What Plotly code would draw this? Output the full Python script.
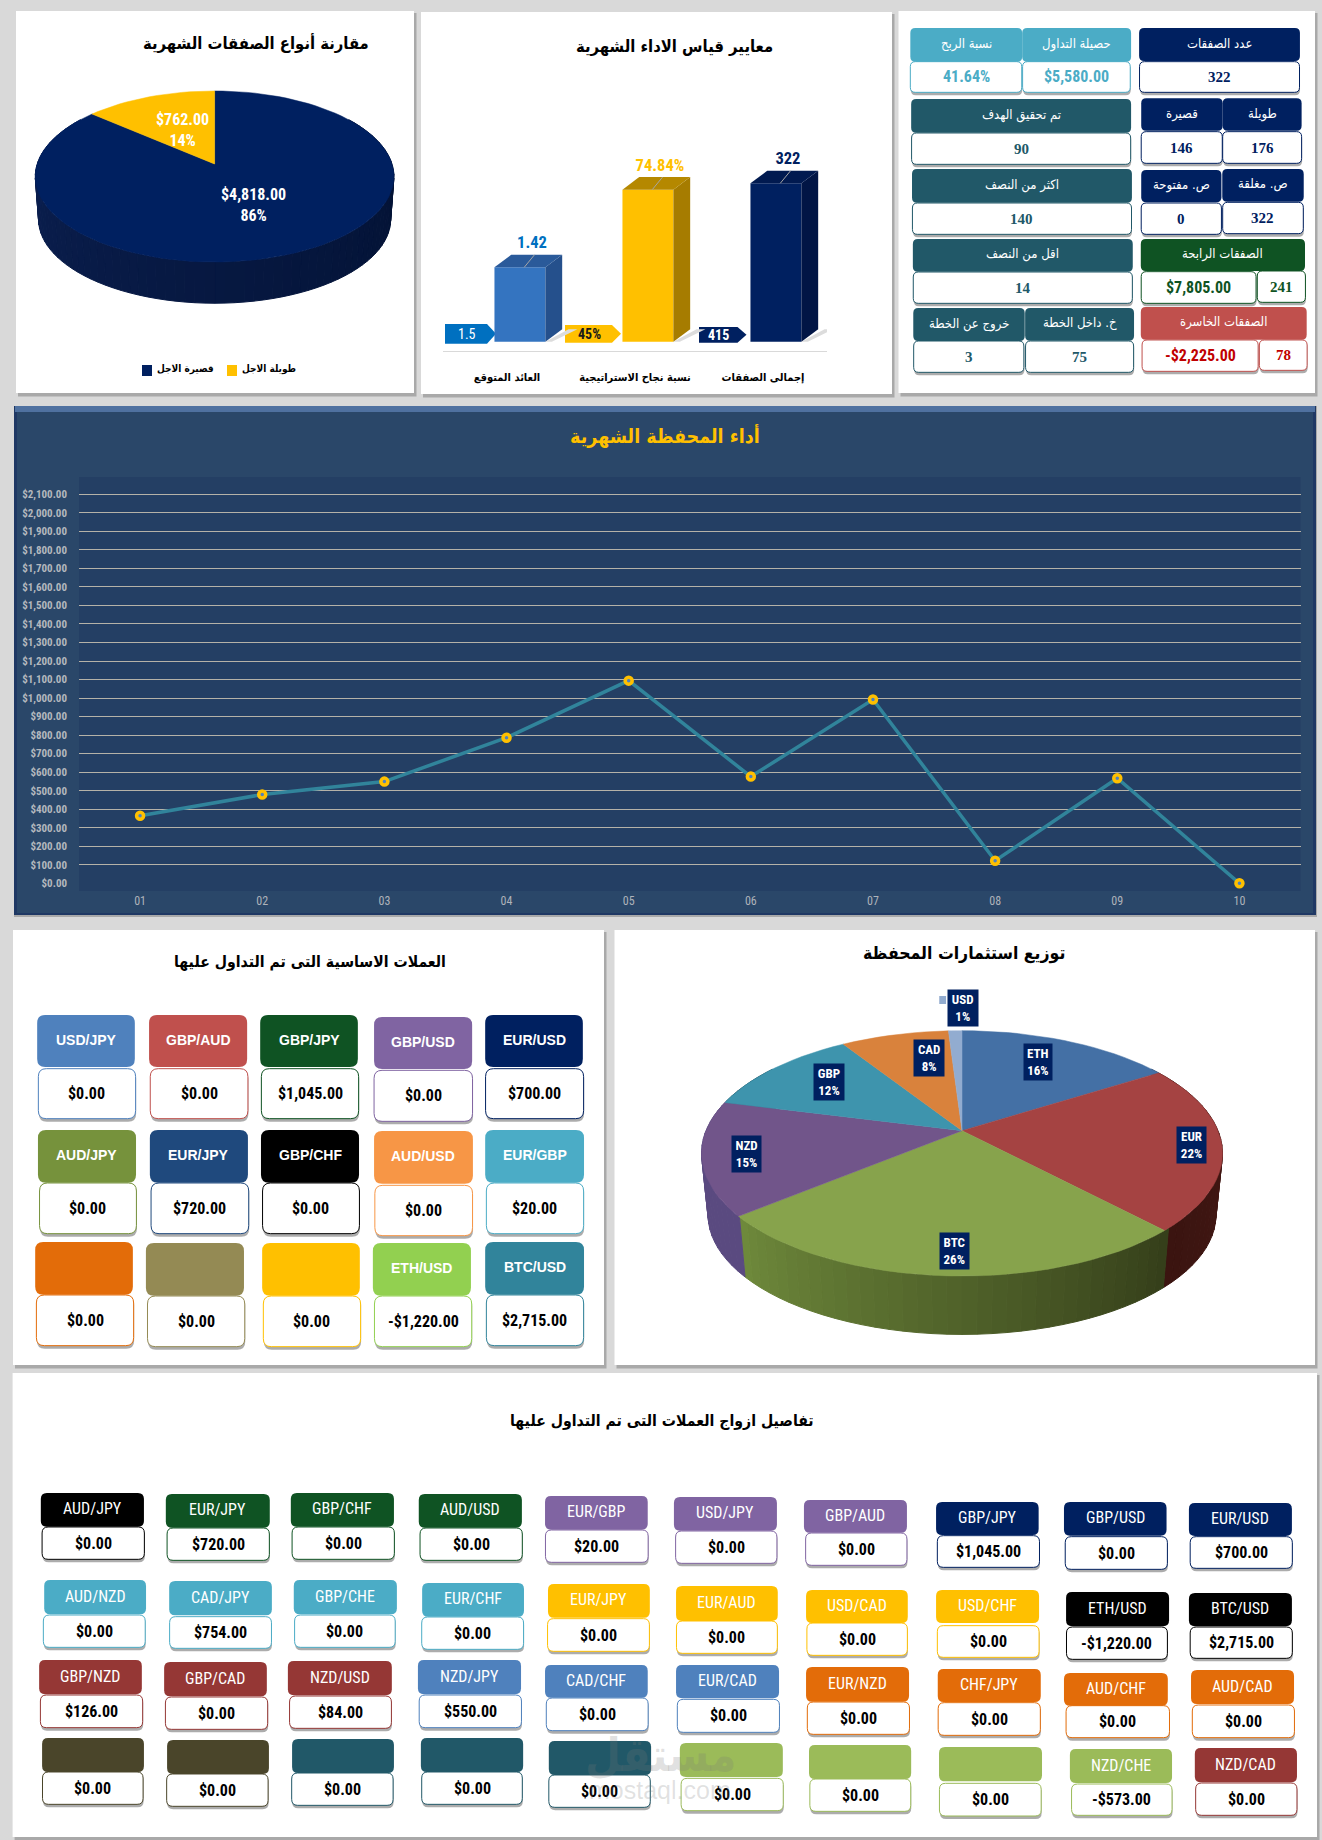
import math
import plotly.graph_objects as go

# ------------------------------------------------------------------ data
TERM_NAMES = ["قصيرة الاجل", "طويلة الاجل"]
TERM_VALUES = [4818, 762]
TERM_COLORS = ["#002060", "#ffc000"]

METRIC_CATEGORIES = ["العائد المتوقع", "نسبة نجاح الاستراتيجية", "إجمالى الصفقات"]
METRIC_HEIGHTS = [47, 96, 100]
METRIC_LABELS = ["1.42", "74.84%", "322"]
METRIC_TARGETS = ["1.5", "45%", "415"]

MONTHS = ["01", "02", "03", "04", "05", "06", "07", "08", "09", "10"]
MONTHLY_RETURN = [365, 479, 549, 786, 1094, 576, 992, 122, 567, 0]
Y_TICKS = [0, 100, 200, 300, 400, 500, 600, 700, 800, 900, 1000, 1100, 1200, 1300, 1400,
           1500, 1600, 1700, 1800, 1900, 2000, 2100]

ASSET_NAMES = ["ETH", "EUR", "BTC", "NZD", "GBP", "CAD", "USD"]
ASSET_SHARES = [16, 22, 26, 15, 12, 8, 1]
ASSET_COLORS = ["#4470a5", "#a54342", "#87a34c", "#71558a", "#3e94ad", "#d9823c", "#92acd0"]

KPI_HEADERS = ["نسبة الربح", "حصيلة التداول", "عدد الصفقات", "تم تحقيق الهدف", "قصيرة", "طويلة",
               "اكثر من النصف", "ص. مفتوحة", "ص. مغلقة", "اقل من النصف", "الصفقات الرابحة",
               "خروج عن الخطة", "خ. داخل الخطة", "الصفقات الخاسرة"]
KPI_VALUES = ["41.64%", "$5,580.00", "322", "90", "146", "176", "140", "0", "322", "14",
              "$7,805.00", "3", "75", "-$2,225.00"]
KPI_COLORS = ["#4bacc6", "#4bacc6", "#002060", "#215868", "#002060", "#002060", "#215868",
              "#002060", "#002060", "#215868", "#0f5323", "#215868", "#215868", "#c0504d"]
WIN_COUNT = "241"
LOSS_COUNT = "78"

BASE_NAMES = ["USD/JPY", "GBP/AUD", "GBP/JPY", "GBP/USD", "EUR/USD",
              "AUD/JPY", "EUR/JPY", "GBP/CHF", "AUD/USD", "EUR/GBP",
              "", "", "", "ETH/USD", "BTC/USD"]
BASE_VALUES = ["$0.00", "$0.00", "$1,045.00", "$0.00", "$700.00",
               "$0.00", "$720.00", "$0.00", "$0.00", "$20.00",
               "$0.00", "$0.00", "$0.00", "-$1,220.00", "$2,715.00"]
BASE_COLORS = ["#4f81bd", "#c0504d", "#0f5323", "#8064a2", "#002060",
               "#76923c", "#1f497d", "#000000", "#f79646", "#4bacc6",
               "#e36c09", "#948a54", "#ffc000", "#92d050", "#31849b"]

PAIR_NAMES = ["AUD/JPY", "EUR/JPY", "GBP/CHF", "AUD/USD", "EUR/GBP", "USD/JPY", "GBP/AUD", "GBP/JPY", "GBP/USD", "EUR/USD",
              "AUD/NZD", "CAD/JPY", "GBP/CHE", "EUR/CHF", "EUR/JPY", "EUR/AUD", "USD/CAD", "USD/CHF", "ETH/USD", "BTC/USD",
              "GBP/NZD", "GBP/CAD", "NZD/USD", "NZD/JPY", "CAD/CHF", "EUR/CAD", "EUR/NZD", "CHF/JPY", "AUD/CHF", "AUD/CAD",
              "", "", "", "", "", "", "", "", "NZD/CHE", "NZD/CAD"]
PAIR_VALUES = ["$0.00", "$720.00", "$0.00", "$0.00", "$20.00", "$0.00", "$0.00", "$1,045.00", "$0.00", "$700.00",
               "$0.00", "$754.00", "$0.00", "$0.00", "$0.00", "$0.00", "$0.00", "$0.00", "-$1,220.00", "$2,715.00",
               "$126.00", "$0.00", "$84.00", "$550.00", "$0.00", "$0.00", "$0.00", "$0.00", "$0.00", "$0.00",
               "$0.00", "$0.00", "$0.00", "$0.00", "$0.00", "$0.00", "$0.00", "$0.00", "-$573.00", "$0.00"]
PAIR_COLORS = ["#000000", "#0f5323", "#0f5323", "#0f5323", "#8064a2", "#8064a2", "#8064a2", "#002060", "#002060", "#002060",
               "#4bacc6", "#4bacc6", "#4bacc6", "#4bacc6", "#ffc000", "#ffc000", "#ffc000", "#ffc000", "#000000", "#000000",
               "#953735", "#953735", "#953735", "#4f81bd", "#4f81bd", "#4f81bd", "#e36c09", "#e36c09", "#e36c09", "#e36c09",
               "#4a452a", "#4a452a", "#215868", "#215868", "#215868", "#9bbb59", "#9bbb59", "#9bbb59", "#9bbb59", "#953735"]

# ------------------------------------------------------------------ layout
W, H = 1322, 1840
NARROW = "Liberation Sans Narrow, Roboto Condensed, Liberation Sans, sans-serif"
SANS = "Liberation Sans, Arial, sans-serif"
SERIF = "Liberation Serif, serif"
ARABIC = "DejaVu Sans Condensed, DejaVu Sans, sans-serif"

shapes, annotations = [], []
fig = go.Figure()


def fx(x):
    return x / W


def fy(y):
    return 1 - y / H


def rrect_path(x0, y0, x1, y1, r):
    pts = [("M", x0 + r, y0), ("L", x1 - r, y0), ("Q", x1, y0, x1, y0 + r), ("L", x1, y1 - r),
           ("Q", x1, y1, x1 - r, y1), ("L", x0 + r, y1), ("Q", x0, y1, x0, y1 - r), ("L", x0, y0 + r),
           ("Q", x0, y0, x0 + r, y0)]
    out = []
    for p in pts:
        cmd, vals = p[0], p[1:]
        coords = []
        for i in range(0, len(vals), 2):
            coords.append(f"{fx(vals[i]):.5f},{fy(vals[i + 1]):.5f}")
        out.append(cmd + " ".join(coords))
    return " ".join(out) + " Z"


def rect(x0, y0, x1, y1, fill, line=None, width=0):
    shapes.append(dict(type="rect", xref="paper", yref="paper", layer="below",
                       x0=fx(x0), x1=fx(x1), y0=fy(y1), y1=fy(y0), fillcolor=fill,
                       line=dict(color=line or fill, width=width)))


def rrect(x0, y0, x1, y1, r, fill, line=None, width=0):
    shapes.append(dict(type="path", xref="paper", yref="paper", layer="below",
                       path=rrect_path(x0, y0, x1, y1, r), fillcolor=fill,
                       line=dict(color=line or fill, width=width)))


def poly(points, fill):
    p = "M" + " L".join(f"{fx(a):.5f},{fy(b):.5f}" for a, b in points) + " Z"
    shapes.append(dict(type="path", xref="paper", yref="paper", layer="below", path=p,
                       fillcolor=fill, line=dict(width=0)))


def text(x, y, s, size, color="#000000", family=SANS, bold=False, **kw):
    annotations.append(dict(xref="paper", yref="paper", x=fx(x), y=fy(y), text=s, showarrow=False,
                            xanchor=kw.pop("xanchor", "center"), yanchor="middle",
                            font=dict(size=size, color=color, family=family, weight=700 if bold else 400),
                            **kw))


def panel(x0, y0, x1, y1, shadow="#a9a9a9"):
    rect(x0 + 2, y0 + 2, x1 + 2.5, y1 + 3.5, shadow)
    rect(x0, y0, x1, y1, "#ffffff")


def card(hbox, vbox, name, value, color, name_size, value_size, r, name_font=SANS, name_bold=True,
         value_font=NARROW, value_color="#000000", value_bold=True):
    if vbox is not None:
        x0, y0, x1, y1 = vbox
        rrect(x0 + 0.5, y0 + 2, x1 + 0.5, y1 + 3, r, "rgba(70,70,70,0.45)")
        rrect(x0, y0, x1, y1, r, "#ffffff", color, 1)
        text((x0 + x1) / 2, (y0 + y1) / 2, value, value_size, value_color, value_font, value_bold)
    if hbox is not None:
        x0, y0, x1, y1 = hbox
        rrect(x0, y0, x1, y1, r, color)
        if name:
            text((x0 + x1) / 2, (y0 + y1) / 2 - 1, name, name_size, "#ffffff", name_font, name_bold)


axis_counter = [1]


def add_axes(box, xrange, yrange, xopts=None, yopts=None):
    """Create an overlaid subplot occupying a pixel box; returns trace axis ids."""
    n = axis_counter[0]
    axis_counter[0] += 1
    x0, y0, x1, y1 = box
    sx = "" if n == 1 else str(n)
    xa = dict(domain=[fx(x0), fx(x1)], range=xrange, anchor="y" + sx, visible=False, fixedrange=True, automargin=False)
    ya = dict(domain=[fy(y1), fy(y0)], range=yrange, anchor="x" + sx, visible=False, fixedrange=True, automargin=False)
    xa.update(xopts or {})
    ya.update(yopts or {})
    fig.update_layout({"xaxis" + sx: xa, "yaxis" + sx: ya})
    return "x" + sx, "y" + sx


def hex_mix(a, b, t):
    ca = [int(a[i:i + 2], 16) for i in (1, 3, 5)]
    cb = [int(b[i:i + 2], 16) for i in (1, 3, 5)]
    return "#" + "".join(f"{round(p + (q - p) * t):02x}" for p, q in zip(ca, cb))


def pie_3d(box, cx, cy, A, B, k, depth, shrink, names, values, colors, side_colors):
    """Tilted pie: slice angles come from the values, the subplot's scales give the ellipse."""
    xr = [(box[0] - cx) / A, (box[2] - cx) / A]
    yr = [(cy - box[3]) / B, (cy - box[1]) / B]
    ax, ay = add_axes(box, xr, yr)
    total = sum(values)
    fractions = [v / total for v in values]
    bounds = [0]
    for f in fractions:
        bounds.append(bounds[-1] + f)

    def top(th):
        x, z = math.sin(th), math.cos(th)
        s = 1 / (1 + k * z)
        return x * s, z * s

    def low(th):
        x, y = top(th)
        return x * shrink, y * shrink - depth / B

    # visible rim, as narrow strips so that it can carry the shading
    strips = 90
    start, stop = math.radians(55), math.radians(305)
    for i in range(strips):
        t0 = start + (stop - start) * i / strips
        t1 = start + (stop - start) * (i + 1) / strips
        frac = (t0 + t1) / 2 / (2 * math.pi)
        idx = next(j for j in range(len(values)) if frac <= bounds[j + 1])
        lo, hi = bounds[idx] * 2 * math.pi, bounds[idx + 1] * 2 * math.pi
        tt = min(1, max(0, ((t0 + t1) / 2 - lo) / (hi - lo)))
        if idx == 0 and len(values) == 2:
            tt = (i + 0.5) / strips
        c = hex_mix(side_colors[idx][0], side_colors[idx][1], tt)
        pts = [top(t0), top(t1), low(t1), low(t0), top(t0)]
        fig.add_trace(go.Scatter(x=[p[0] for p in pts], y=[p[1] for p in pts], mode="lines", fill="toself",
                                 fillcolor=c, line=dict(color=c, width=1), hoverinfo="skip", showlegend=False,
                                 xaxis=ax, yaxis=ay))
    for j, name in enumerate(names):
        n = max(4, int(fractions[j] * 120))
        arc = [bounds[j] * 2 * math.pi + (bounds[j + 1] - bounds[j]) * 2 * math.pi * i / n for i in range(n + 1)]
        pts = [(0, 0)] + [top(t) for t in arc] + [(0, 0)]
        fig.add_trace(go.Scatter(x=[p[0] for p in pts], y=[p[1] for p in pts], mode="lines", fill="toself",
                                 fillcolor=colors[j], line=dict(color=colors[j], width=0.5), name=name,
                                 hoverinfo="name", showlegend=False, xaxis=ax, yaxis=ay))


# ----------------------------------------------------------------- panels
panel(16, 11, 414, 393)
panel(421, 12, 892, 394)
panel(898.5, 11, 1315, 393)
panel(13, 930, 604, 1365)
panel(614.5, 930, 1315, 1365)
panel(12.6, 1373, 1317, 1837)

# ------------------------------------------------------------- term pie
text(255.6, 44, "مقارنة أنواع الصفقات الشهرية", 16.5, "#000000", ARABIC, True)
pie_3d((16, 60, 414, 340), 214.6, 164, 177.4, 83.7, 0.146, 43, 0.982, TERM_NAMES, TERM_VALUES, TERM_COLORS,
       [("#010f2e", "#0c2154"), ("#ffc000", "#ffc000")])
term_total = sum(TERM_VALUES)
text(253, 205, f"${TERM_VALUES[0]:,.2f}<br>{round(100 * TERM_VALUES[0] / term_total)}%", 16, "#ffffff", NARROW, True)
text(182, 130, f"${TERM_VALUES[1]:,.2f}<br>{round(100 * TERM_VALUES[1] / term_total)}%", 16, "#ffffff", NARROW, True)
rect(142, 365, 152, 376, TERM_COLORS[0])
rect(227, 365, 237, 376, TERM_COLORS[1])
text(185, 369, TERM_NAMES[0], 10, "#000000", ARABIC, True)
text(269, 369, TERM_NAMES[1], 10, "#000000", ARABIC, True)

# ------------------------------------------------------------- metric bars
text(674, 47, "معايير قياس الاداء الشهرية", 16.5, "#000000", ARABIC, True)
unit_px = 1.584
base_y, axis_y, cat_x0, cat_w = 341.7, 351, 507, 128
bar_box = (443, 100, 827, axis_y)
bx, by = add_axes(bar_box, [-0.5, 2.5], [-(axis_y - base_y) / unit_px, (base_y - 100) / unit_px],
                  xopts=dict(visible=True, type="linear", tickmode="array", tickvals=[0, 1, 2],
                             ticktext=METRIC_CATEGORIES, showline=True, linecolor="#d9d9d9", linewidth=1,
                             showgrid=False, zeroline=False, ticks="", ticklabelstandoff=16,
                             tickfont=dict(size=11, color="#000000", family=ARABIC, weight=700)))
bar_off, bar_w, dep_x, dep_y = -0.098, 0.398, 0.131, 7.9
side_cols = ["#25508c", "#a67c00", "#011545"]
top_cols = ["#2a5a9a", "#b58800", "#011a50"]
front_cols = ["#3474c0", "#ffc000", "#002060"]
label_cols = ["#0070c0", "#ffc000", "#002060"]
for i, h in enumerate(METRIC_HEIGHTS):
    xl = i + bar_off
    xr = xl + bar_w
    # shadow
    fig.add_trace(go.Scatter(x=[xr, xr + dep_x + 0.05, xr + 0.25, xr + 0.05, xr], y=[0, dep_y, dep_y, 0, 0], mode="lines",
                             fill="toself", fillcolor="#dcdcdc", line=dict(width=0), hoverinfo="skip",
                             showlegend=False, xaxis=bx, yaxis=by))
    fig.add_trace(go.Scatter(x=[xr, xr + dep_x, xr + dep_x, xr, xr], y=[0, dep_y, h + dep_y, h, 0], mode="lines",
                             fill="toself", fillcolor=side_cols[i], line=dict(width=0), hoverinfo="skip",
                             showlegend=False, xaxis=bx, yaxis=by))
    fig.add_trace(go.Scatter(x=[xl, xl + dep_x, xr + dep_x, xr, xl], y=[h, h + dep_y, h + dep_y, h, h], mode="lines",
                             fill="toself", fillcolor=top_cols[i], line=dict(width=0), hoverinfo="skip",
                             showlegend=False, xaxis=bx, yaxis=by))
fig.add_trace(go.Bar(x=[0, 1, 2], y=METRIC_HEIGHTS, width=bar_w, offset=bar_off, marker=dict(color=front_cols, line=dict(width=0)),
                     showlegend=False, hoverinfo="skip", xaxis=bx, yaxis=by))
for i, h in enumerate(METRIC_HEIGHTS):
    fig.add_trace(go.Scatter(x=[i + 0.135, i + 0.215], y=[h, h + dep_y], mode="lines",
                             line=dict(color="#a6a6a6", width=1), hoverinfo="skip", showlegend=False, xaxis=bx, yaxis=by))
fig.add_trace(go.Scatter(x=[i + 0.195 for i in range(3)], y=[h + 14.5 for h in METRIC_HEIGHTS], mode="text",
                         text=METRIC_LABELS, textposition="middle center", hoverinfo="skip", showlegend=False,
                         textfont=dict(size=16.5, color=label_cols, family=NARROW, weight=700), xaxis=bx, yaxis=by))
chips = [(445, 324, 496, 343.7, "#0070c0", "#ffffff", False),
         (565, 325, 621, 342.7, "#ffc000", "#1a1a1a", True),
         (699, 327, 746.5, 342.7, "#002060", "#ffffff", True)]
for t, (x0, y0, x1, y1, c, tc, b) in zip(METRIC_TARGETS, chips):
    poly([(x0, y0), (x1 - 9, y0), (x1, (y0 + y1) / 2), (x1 - 9, y1), (x0, y1)], c)
    text((x0 + x1 - 8) / 2, (y0 + y1) / 2, t, 14, tc, NARROW, b)

# ----------------------------------------------------------------- KPI cards
Z2 = lambda a, c, b, d: (660 + a / 2.369, c / 3, 660 + b / 2.369, d / 3)
kpi_boxes = [
    (Z2(593, 84, 858, 185), Z2(593, 185, 857, 277)),
    (Z2(858, 84, 1116, 185), Z2(859, 185, 1114, 277)),
    (Z2(1135, 84, 1516, 183), Z2(1136, 185, 1515, 277)),
    (Z2(595, 297, 1116, 398), Z2(596, 399, 1115, 493)),
    (Z2(1140, 295, 1333, 392), Z2(1140, 395, 1332, 490)),
    (Z2(1333, 295, 1520, 392), Z2(1333, 395, 1520, 490)),
    (Z2(597, 507, 1118, 608), Z2(598, 609, 1117, 703)),
    (Z2(1140, 510, 1330, 607), Z2(1140, 609, 1330, 703)),
    (Z2(1332, 507, 1525, 605), Z2(1333, 607, 1524, 701)),
    (Z2(599, 717, 1120, 815), Z2(600, 816, 1119, 910)),
    (Z2(1139, 717, 1528, 813), Z2(1140, 815, 1412, 910)),
    (Z2(600, 924, 864, 1023), Z2(601, 1023, 862, 1117)),
    (Z2(865, 924, 1123, 1022), Z2(866, 1023, 1122, 1117)),
    (Z2(1139, 921, 1532, 1019), Z2(1142, 1020, 1417, 1114)),
]
value_colors = {"#4bacc6": "#4bacc6", "#002060": "#002060", "#215868": "#215868", "#0f5323": "#0f5323", "#c0504d": "#c00000"}
for i, (name, val, col) in enumerate(zip(KPI_HEADERS, KPI_VALUES, KPI_COLORS)):
    hb, vb = kpi_boxes[i]
    vc = value_colors[col]
    money = "$" in val or "%" in val
    card(None, vb, "", val, col, 13, 16 if money else 15, 5, value_font=NARROW if money else SERIF, value_color=vc)
    card(hb, None, name, "", col, 13, 15, 5, name_font=ARABIC, name_bold=False)
card(None, Z2(1415, 813, 1529, 907), "", WIN_COUNT, "#0f5323", 12, 15, 5, value_font=SERIF, value_color="#0f5323")
card(None, Z2(1420, 1020, 1533, 1111), "", LOSS_COUNT, "#c0504d", 12, 15, 5, value_font=SERIF, value_color="#c00000")

# ------------------------------------------------------------- line chart
rect(14, 406, 1317, 917, "#a9a9a9")
rect(14, 406, 1316, 915, "#1f3864")
rect(17, 412, 1313, 913, "#2a4769")
rect(15, 406, 1315, 412, "#4f71a0")
rect(79, 477, 1300.5, 891, "#243f64")
text(665, 436, "أداء المحفظة الشهرية", 19.5, "#ffc000", ARABIC, True)
px_per = (883.3 - 494.3) / 2100
lx, ly = add_axes((79, 477, 1300.5, 883.3), [-0.5, 9.5], [0, (883.3 - 477) / px_per],
                  xopts=dict(visible=True, type="category", categoryorder="array", categoryarray=MONTHS, showgrid=False, showline=False,
                             zeroline=False, ticks="", ticklabelstandoff=9,
                             tickfont=dict(size=12, color="#aeb3ba", family=NARROW)),
                  yopts=dict(visible=True, tickmode="array", tickvals=Y_TICKS,
                             ticktext=[f"${v:,.2f}" for v in Y_TICKS], showgrid=True, gridcolor="#b5b2a8", gridwidth=1,
                             showline=False, zeroline=False, ticks="", ticklabelstandoff=11,
                             tickfont=dict(size=11, color="#b4b8be", family=NARROW, weight=700)))
fig.add_trace(go.Scatter(x=MONTHS, y=MONTHLY_RETURN, mode="lines+markers", line=dict(color="#31849b", width=3.5),
                         marker=dict(size=7, color="#4f81bd", line=dict(color="#ffc000", width=3.5)), cliponaxis=False,
                         hovertemplate="%{x}: $%{y:,.2f}<extra></extra>", showlegend=False, xaxis=lx, yaxis=ly))

# ------------------------------------------------------------- base currencies
text(310.4, 961.7, "العملات الاساسية التى تم التداول عليها", 15.7, "#000000", ARABIC, True)
Z4 = lambda a, c, b, d: (a / 2.529, 920 + c / 3, b / 2.529, 920 + d / 3)
base_boxes = [
    (Z4(94, 285, 341, 441), Z4(97, 446, 343, 596)), (Z4(377, 285, 625, 441), Z4(380, 446, 627, 596)),
    (Z4(658, 285, 905, 441), Z4(661, 446, 907, 596)), (Z4(946, 291, 1194, 447), Z4(946, 451, 1195, 604)),
    (Z4(1227, 285, 1474, 441), Z4(1228, 446, 1476, 596)),
    (Z4(96, 630, 344, 788), Z4(100, 789, 345, 941)), (Z4(379, 630, 627, 788), Z4(382, 789, 629, 941)),
    (Z4(660, 630, 908, 788), Z4(664, 789, 909, 941)), (Z4(946, 633, 1196, 791), Z4(948, 796, 1195, 947)),
    (Z4(1227, 630, 1477, 788), Z4(1230, 789, 1476, 941)),
    (Z4(89, 966, 336, 1124), Z4(92, 1125, 338, 1277)), (Z4(369, 969, 617, 1127), Z4(373, 1128, 619, 1280)),
    (Z4(663, 969, 910, 1127), Z4(666, 1128, 912, 1280)), (Z4(943, 969, 1191, 1127), Z4(947, 1128, 1193, 1280)),
    (Z4(1227, 966, 1477, 1124), Z4(1230, 1125, 1476, 1277)),
]
for (hb, vb), name, val, col in zip(base_boxes, BASE_NAMES, BASE_VALUES, BASE_COLORS):
    card(hb, vb, name, val, col, 14, 16, 8)

# ------------------------------------------------------------- asset pie
text(964, 953, "توزيع استثمارات المحفظة", 17.5, "#000000", ARABIC, True)
side2 = [("#3a4a66", "#3a4a66"), ("#4a1a16", "#3a1410"), ("#353f1a", "#6f8a3c"), ("#5a4a80", "#5a4a80"),
         ("#2a6070", "#2a6070"), ("#8a5020", "#8a5020"), ("#607090", "#607090")]
pie_3d((615, 990, 1315, 1360), 962, 1130.7, 256, 118.5, 0.1847, 62, 0.975, ASSET_NAMES, ASSET_SHARES, ASSET_COLORS, side2)
Z5 = lambda a, c, b, d: (610 + a / 2.202, 920 + c / 3, 610 + b / 2.202, 920 + d / 3)
asset_boxes = [Z5(912, 372, 973, 480), Z5(1249, 621, 1313, 729), Z5(727, 939, 791, 1047), Z5(269, 648, 333, 756),
               Z5(449, 432, 515, 540), Z5(669, 360, 736, 468), Z5(745, 210, 810, 318)]
for n, s, (x0, y0, x1, y1) in zip(ASSET_NAMES, ASSET_SHARES, asset_boxes):
    text((x0 + x1) / 2, (y0 + y1) / 2, f"{n}<br>{s}%", 13, "#ffffff", NARROW, True,
         bgcolor="#002060", width=x1 - x0, height=y1 - y0, borderpad=0)
sw = Z5(725, 228, 740, 252)
rect(sw[0], sw[1], sw[2], sw[3], ASSET_COLORS[6])

# ------------------------------------------------------------- pairs
text(661.6, 1420, "تفاصيل ازواج العملات التى تم التداول عليها", 15.7, "#000000", ARABIC, True)
L = lambda a, c, b, d: (a / 2.376, 1380 + c / 3, b / 2.376, 1380 + d / 3)
R = lambda a, c, b, d: (660 + a / 2.369, 1380 + c / 3, 660 + b / 2.369, 1380 + d / 3)
pair_boxes = [
    (L(97, 339, 342, 440), L(100, 441, 343, 538)), (L(394, 342, 641, 443), L(397, 444, 640, 541)),
    (L(691, 339, 936, 440), L(694, 441, 937, 538)), (L(995, 342, 1240, 443), L(998, 444, 1241, 541)),
    (L(1295, 348, 1539, 449), L(1296, 450, 1540, 547)), (R(33, 351, 277, 452), R(37, 453, 277, 550)),
    (R(341, 360, 585, 458), R(345, 459, 585, 556)), (R(654, 366, 897, 465), R(657, 467, 899, 562)),
    (R(957, 366, 1200, 467), R(960, 470, 1202, 568)), (R(1253, 369, 1497, 468), R(1256, 470, 1498, 565)),
    (L(105, 600, 347, 703), L(103, 705, 345, 802)), (L(402, 603, 646, 706), L(403, 710, 645, 805)),
    (L(698, 600, 943, 703), L(700, 705, 939, 802)), (L(1003, 609, 1245, 710), L(1002, 711, 1244, 808)),
    (L(1302, 612, 1544, 713), L(1301, 716, 1543, 814)), (R(38, 618, 279, 723), R(39, 723, 278, 820)),
    (R(346, 630, 587, 729), R(348, 729, 586, 826)), (R(654, 630, 898, 729), R(657, 737, 898, 832)),
    (R(962, 636, 1206, 739), R(963, 741, 1202, 838)), (R(1253, 639, 1497, 739), R(1256, 741, 1498, 835)),
    (L(93, 840, 337, 943), L(96, 945, 339, 1043)), (L(390, 846, 634, 949), L(393, 951, 636, 1048)),
    (L(684, 843, 931, 946), L(688, 948, 930, 1045)), (L(993, 840, 1238, 943), L(996, 945, 1239, 1043)),
    (L(1295, 855, 1539, 953), L(1298, 954, 1540, 1052)), (R(38, 855, 282, 955), R(41, 958, 283, 1057)),
    (R(346, 861, 590, 965), R(349, 966, 591, 1063)), (R(658, 867, 902, 966), R(659, 968, 901, 1066)),
    (R(957, 879, 1203, 977), R(962, 977, 1207, 1073)), (R(1258, 870, 1502, 972), R(1261, 975, 1503, 1073)),
    (L(100, 1074, 342, 1176), L(101, 1176, 340, 1273)), (L(397, 1080, 639, 1182), L(396, 1182, 637, 1279)),
    (L(694, 1077, 936, 1179), L(693, 1179, 934, 1276)), (L(1000, 1074, 1243, 1176), L(1002, 1176, 1241, 1273)),
    (L(1304, 1083, 1547, 1185), L(1304, 1185, 1545, 1282)), (R(47, 1089, 291, 1191), R(50, 1195, 292, 1292)),
    (R(353, 1095, 595, 1197), R(355, 1197, 594, 1294)), (R(661, 1101, 905, 1204), R(662, 1210, 903, 1308)),
    (R(971, 1107, 1213, 1209), R(975, 1212, 1213, 1306)), (R(1267, 1104, 1509, 1207), R(1269, 1209, 1509, 1306)),
]
for (hb, vb), name, val, col in zip(pair_boxes, PAIR_NAMES, PAIR_VALUES, PAIR_COLORS):
    card(hb, vb, name, val, col, 16, 16, 6, name_font=NARROW, name_bold=False)

# ------------------------------------------------------------- watermark
text(660, 1755, "مستقل", 46, "rgba(120,120,120,0.22)", ARABIC, True)
text(660, 1790, "mostaql.com", 25, "rgba(120,120,120,0.22)", SANS, False)

fig.update_layout(width=W, height=H, margin=dict(l=0, r=0, t=0, b=0), autosize=False,
                  paper_bgcolor="#d9d9d9", plot_bgcolor="rgba(0,0,0,0)", showlegend=False,
                  shapes=shapes, annotations=annotations, hovermode="closest")
fig.write_html("out.html", config=dict(displayModeBar=False),
               post_script="document.body.style.margin='0';document.body.style.overflow='hidden';")
